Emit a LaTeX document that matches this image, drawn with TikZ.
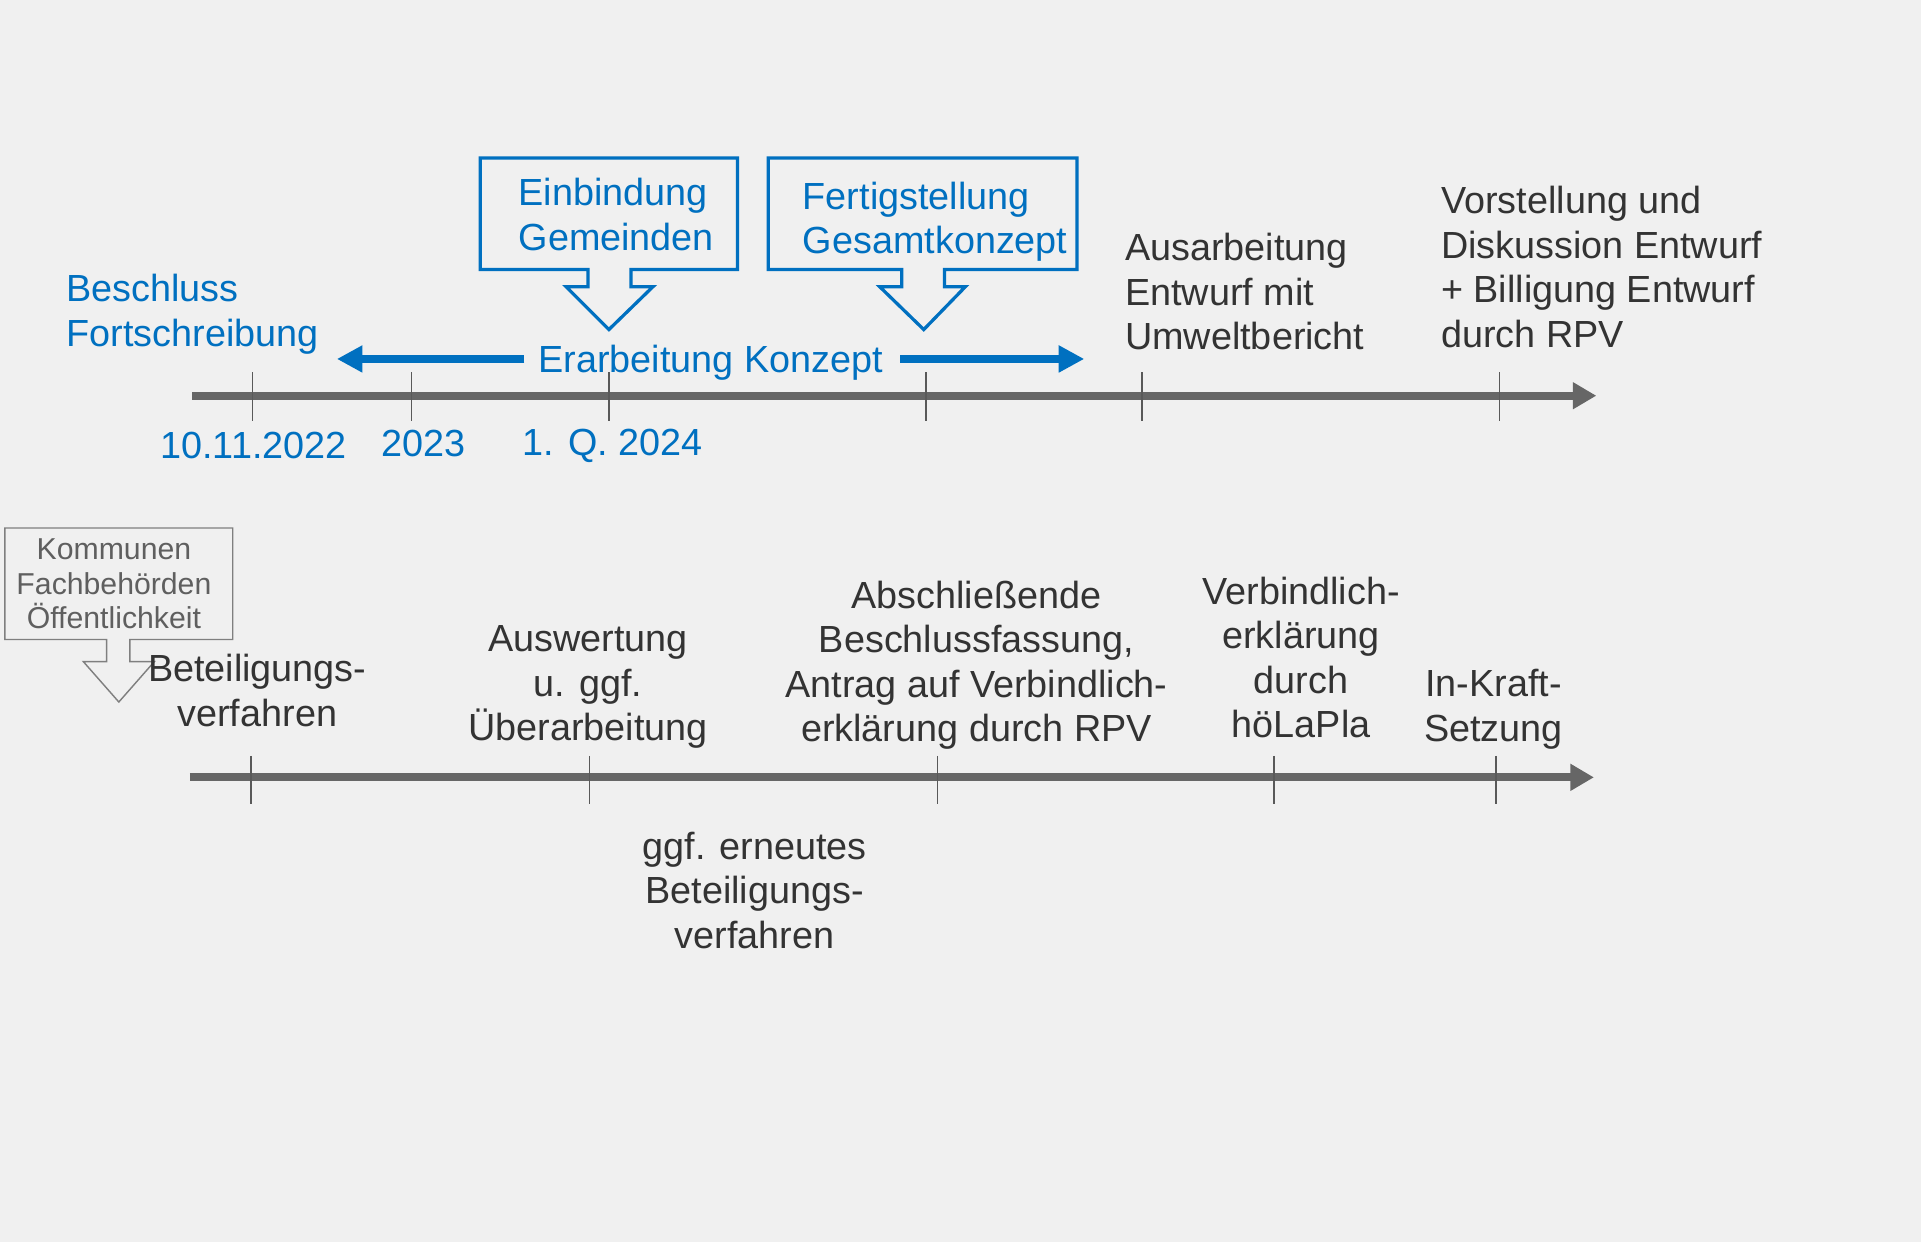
\documentclass[tikz,border=0pt]{standalone}
\usepackage{fontspec}
\setmainfont{Liberation Sans}
\usetikzlibrary{arrows.meta}
\definecolor{bg}{HTML}{F0F0F0}
\definecolor{myblue}{HTML}{0070C0}
\definecolor{axisgray}{HTML}{666666}
\definecolor{txtgray}{HTML}{333333}
\definecolor{tickgray}{HTML}{595959}
\definecolor{boxgray}{HTML}{7F7F7F}
\definecolor{boxtxt}{HTML}{5F5F5F}
\begin{document}
\begin{tikzpicture}[x=0.6pt,y=-0.6pt,
 lbl/.style={font=\fontsize{18.5}{21.8}\selectfont, inner sep=0pt, text=txtgray},
 bluelbl/.style={lbl, text=myblue},
 axis/.style={line width=4pt, draw=axisgray, -{Triangle[length=11.5pt,width=12.5pt]}},
 tickline/.style={line width=0.7pt, draw=tickgray},
 barrow/.style={line width=3.9pt, draw=myblue, -{Triangle[length=12.5pt,width=12.5pt]}},
 bcallout/.style={draw=myblue, line width=1.6pt, line join=miter},
 gcallout/.style={draw=boxgray, line width=0.7pt, line join=miter},
 smalllbl/.style={font=\fontsize{14.8}{17.1}\selectfont, inner sep=0pt, text=boxtxt}]

\fill[bg] (0,0) rectangle (1568,1014);
\useasboundingbox (0,0) rectangle (1568,1014);

% ---------- top timeline ----------
\coordinate (ta) at (157,323);
\coordinate (tb) at (1303,323);
\draw[axis] (ta) -- (tb);
\foreach \x in {206,336,497,756,932,1224}{
  \draw[tickline] (\x,304) -- (\x,344);
}

\node[bluelbl, anchor=west, align=left] (beschluss) at (54,256.5) {Beschluss\\Fortschreibung};
\node[bluelbl] (d1) at (207,364) {10.11.2022};
\node[bluelbl] (d2) at (346,362) {2023};
\node[bluelbl] (d3) at (500,364) {1. Q. 2024};

\node[bluelbl] (konzept) at (580,296) {Erarbeitung Konzept};
\coordinate (la) at (428,293);
\coordinate (lb) at (275,293);
\coordinate (ra) at (735,293);
\coordinate (rb) at (885,293);
\draw[barrow] (la) -- (lb);
\draw[barrow] (ra) -- (rb);

% callout 1
\draw[bcallout] (392,129) -- (602,129) -- (602,220) -- (515,220) -- (515,234) -- (533,234)
  -- (497,269) -- (462,234) -- (480,234) -- (480,220) -- (392,220) -- cycle;
\node[bluelbl, anchor=west, align=left] (einb) at (423,175) {Einbindung\\Gemeinden};

% callout 2
\draw[bcallout] (627,129) -- (879,129) -- (879,220) -- (771,220) -- (771,234) -- (788,234)
  -- (754,269) -- (718,234) -- (736,234) -- (736,220) -- (627,220) -- cycle;
\node[bluelbl, anchor=west, align=left] (fert) at (655,181) {Fertigstellung\\Gesamtkonzept};

\node[lbl, anchor=west, align=left] (ausarb) at (918,238) {Ausarbeitung\\Entwurf mit\\Umweltbericht};
\node[lbl, anchor=west, align=left] (vorst) at (1176,218) {Vorstellung und\\Diskussion Entwurf\\+ Billigung Entwurf\\durch RPV};

% ---------- bottom timeline ----------
\coordinate (ba) at (155,634.5);
\coordinate (bb) at (1301,634.5);
\draw[axis] (ba) -- (bb);
\foreach \x in {205,481,765,1040,1221}{
  \draw[tickline] (\x,617) -- (\x,656);
}

% gray callout
\draw[gcallout] (4,431) -- (190,431) -- (190,522) -- (106,522) -- (106,540) -- (126,540)
  -- (97,573) -- (68,540) -- (87,540) -- (87,522) -- (4,522) -- cycle;
\node[smalllbl, align=center] (komm) at (93,476.5) {Kommunen\\Fachbehörden\\Öffentlichkeit};

\node[lbl, align=center] (beteil) at (210,563.5) {Beteiligungs-\\verfahren};
\node[lbl, align=center] (ausw) at (480,561) {Auswertung\\u. ggf.\\Überarbeitung};
\node[lbl, align=center] (abschl) at (797,543) {Abschließende\\Beschlussfassung,\\Antrag auf Verbindlich-\\erklärung durch RPV};
\node[lbl, align=center] (verb) at (1062,536.5) {Verbindlich-\\erklärung\\durch\\höLaPla};
\node[lbl, align=center] (inkraft) at (1219,579) {In-Kraft-\\Setzung};
\node[lbl, align=center] (erneut) at (616,726.5) {ggf. erneutes\\Beteiligungs-\\verfahren};
\end{tikzpicture}
\end{document}
